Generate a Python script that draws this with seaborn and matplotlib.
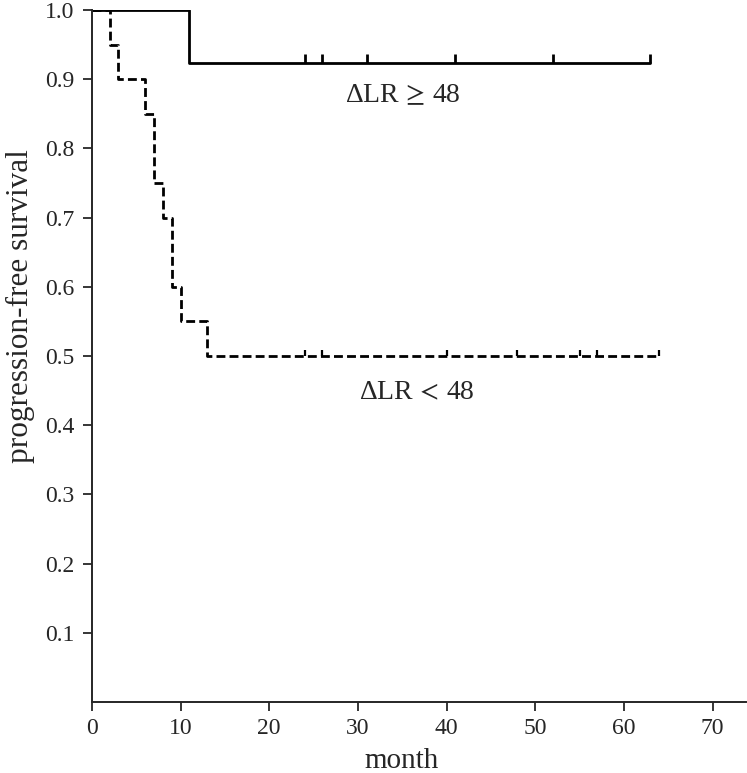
import pandas as pd
import matplotlib.pyplot as plt
import seaborn as sns

# Kaplan-Meier step values
high_t = [0, 11, 63]
high_s = [1.0, 0.923, 0.923]
high_cens_t = [24, 26, 31, 41, 52, 63]
high_cens_s = [0.923] * 6

low_t = [0, 2, 3, 6, 7, 8, 9, 10, 13, 64]
low_s = [1.0, 0.95, 0.90, 0.85, 0.75, 0.70, 0.60, 0.55, 0.50, 0.50]
low_cens_t = [24, 26, 40, 48, 55, 57, 64]
low_cens_s = [0.50] * 7

x_ticks = [0, 10, 20, 30, 40, 50, 60, 70]
y_ticks = [0.1, 0.2, 0.3, 0.4, 0.5, 0.6, 0.7, 0.8, 0.9, 1.0]


def main():
    sns.set_style("ticks")
    plt.rcParams['font.family'] = ['Liberation Serif', 'DejaVu Serif']
    plt.rcParams['mathtext.fontset'] = 'stix'

    fig = plt.figure(figsize=(7.47, 7.73), dpi=100)
    ax = fig.add_axes([0.123, 0.0918, 0.876, 0.8952])

    high = pd.DataFrame({"t": high_t, "s": high_s})
    low = pd.DataFrame({"t": low_t, "s": low_s})

    sns.lineplot(data=high, x="t", y="s", ax=ax, color="black", lw=2.0,
                 drawstyle="steps-post", estimator=None, sort=False)
    sns.lineplot(data=low, x="t", y="s", ax=ax, color="black", lw=2.0,
                 drawstyle="steps-post", estimator=None, sort=False,
                 dashes=False, linestyle=(0, (3.2, 1.5)))

    # censoring marks point upward from the curve
    tick_up = [(0, 0), (0, 1)]
    sns.scatterplot(x=high_cens_t, y=high_cens_s, ax=ax, marker=tick_up,
                    s=150, linewidth=2.0, edgecolor="black", color="black")
    sns.scatterplot(x=low_cens_t, y=low_cens_s, ax=ax, marker=tick_up,
                    s=80, linewidth=1.6, edgecolor="black", color="black")

    ax.text(35.1, 0.876, r"ΔLR$\,\geq\,$48", fontsize=20, ha="center", va="center")
    ax.text(36.6, 0.447, r"ΔLR$\,<\,$48", fontsize=20, ha="center", va="center")

    ax.set_xlim(0, 73.8)
    ax.set_ylim(0, 1.0)
    ax.set_xticks(x_ticks)
    ax.set_yticks(y_ticks)
    ax.set_yticklabels([f"{v:.1f}" for v in y_ticks])
    ax.tick_params(labelsize=17, length=6.5, width=1.3, direction="out")
    ax.tick_params(axis="x", pad=5)
    ax.tick_params(axis="y", pad=6)
    ax.set_xlabel("month", fontsize=21)
    ax.set_ylabel("progression-free survival", fontsize=22.5)
    ax.xaxis.set_label_coords(0.474, -0.066)
    ax.yaxis.set_label_coords(-0.087, 0.572)
    for side in ["left", "bottom"]:
        ax.spines[side].set_linewidth(1.4)
    sns.despine(ax=ax)

    fig.savefig("out.png", dpi=100)


if __name__ == "__main__":
    main()
